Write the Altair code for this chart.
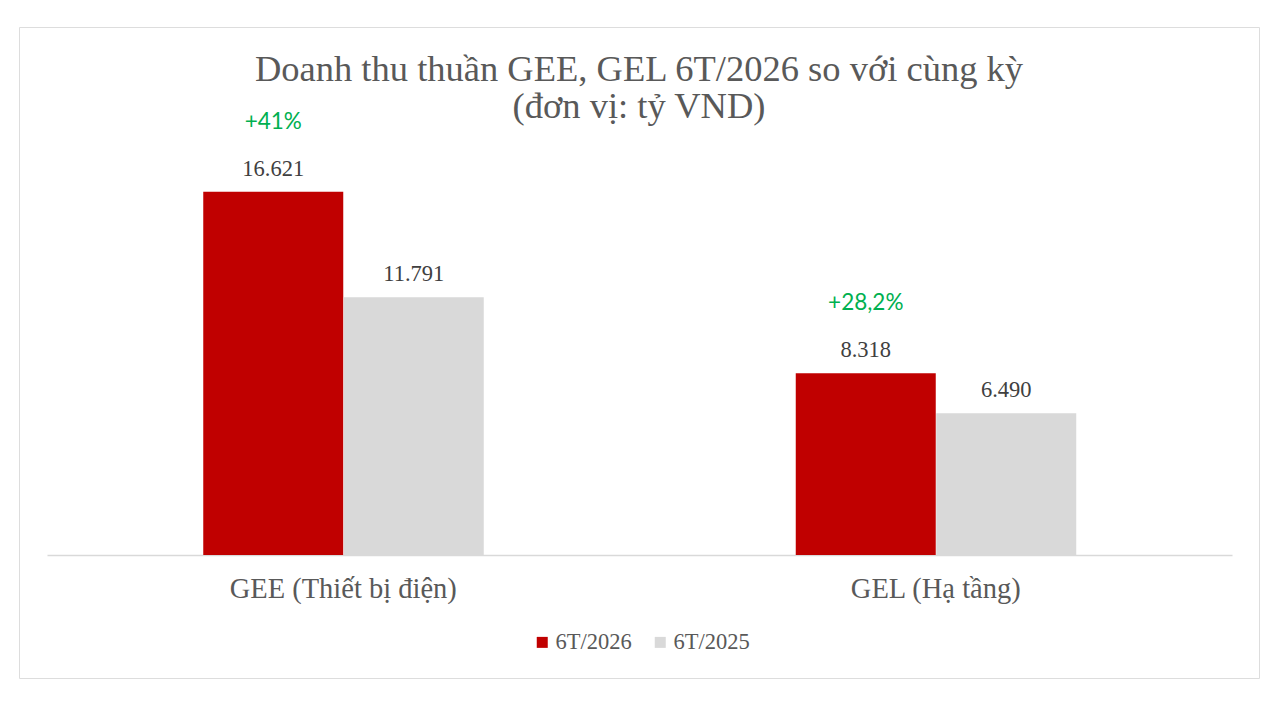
import altair as alt
import pandas as pd

# ---------------------------------------------------------------------------
# Data (tỷ VND)
# ---------------------------------------------------------------------------
categories = ["GEE (Thiết bị điện)", "GEL (Hạ tầng)"]
series = ["6T/2026", "6T/2025"]
values_2026 = [16621, 8318]
values_2025 = [11791, 6490]
growth = ["+41%", "+28,2%"]

RED = "#C00000"
GREY = "#D9D9D9"
SERIF = "Liberation Serif"

rows = []
for cat, v26, v25 in zip(categories, values_2026, values_2025):
    rows.append({"cat": cat, "series": series[0], "value": v26})
    rows.append({"cat": cat, "series": series[1], "value": v25})
df = pd.DataFrame(rows)

df_growth = pd.DataFrame({
    "cat": categories,
    "series": [series[0]] * len(categories),
    "value": values_2026,
    "growth": growth,
})

# ---------------------------------------------------------------------------
# Chart
# ---------------------------------------------------------------------------
x_enc = alt.X(
    "cat:N",
    sort=categories,
    scale=alt.Scale(range=[28, 1213], paddingInner=0, paddingOuter=0),
    axis=alt.Axis(
        title=None, labelAngle=0, ticks=False, domainColor="#D9D9D9",
        domainWidth=1.5, offset=-123, labelPadding=19, labelFont=SERIF,
        labelFontSize=28.5, labelColor="#595959", labelLimit=0,
    ),
)
xoff_enc = alt.XOffset(
    "series:N", sort=series,
    scale=alt.Scale(range=[156, 437], paddingInner=0, paddingOuter=0),
)
y_enc = alt.Y(
    "value:Q",
    scale=alt.Scale(domain=[0, 20000], range=[528, 91]),
    axis=None,
)

base = alt.Chart(df).encode(x=x_enc, xOffset=xoff_enc, y=y_enc)

bars = base.mark_bar(size=140).encode(
    color=alt.Color(
        "series:N",
        sort=series,
        scale=alt.Scale(domain=series, range=[RED, GREY]),
        legend=alt.Legend(
            title=None, orient="none", direction="horizontal",
            legendX=512, legendY=604, symbolType="square", symbolSize=121,
            symbolStrokeWidth=0, labelFont=SERIF, labelFontSize=22.5,
            labelColor="#595959", labelOffset=2, columnPadding=17,
        ),
    )
)

value_labels = base.mark_text(
    font=SERIF, fontSize=22.5, color="#404040", baseline="alphabetic", dy=-16
).encode(text=alt.Text("value:Q", format=",.0f"))

growth_labels = alt.Chart(df_growth).mark_text(
    font="Lato", fontSize=22.5, color="#00B050", baseline="alphabetic", dy=-63
).encode(x=x_enc, xOffset=xoff_enc, y=y_enc, text="growth:N")

chart = (
    alt.layer(bars, value_labels, growth_labels)
    .properties(
        width=1240,
        height=651,
        padding={"left": 11, "top": 19, "right": 5, "bottom": 5},
        autosize=alt.AutoSizeParams(type="none"),
        title=alt.TitleParams(
            ["Doanh thu thuần GEE, GEL 6T/2026 so với cùng kỳ", "(đơn vị: tỷ VND)"],
            font=SERIF, fontSize=36.5, fontWeight="normal", color="#595959",
            lineHeight=37, anchor="middle", offset=-98,
        ),
    )
    .configure_view(stroke="#D9D9D9", strokeWidth=1.5)
    .configure(locale={"number": {"decimal": ",", "thousands": ".",
                                  "grouping": [3], "currency": ["", ""]}})
)

chart.save("out.html", embed_options={"renderer": "svg", "actions": False})
